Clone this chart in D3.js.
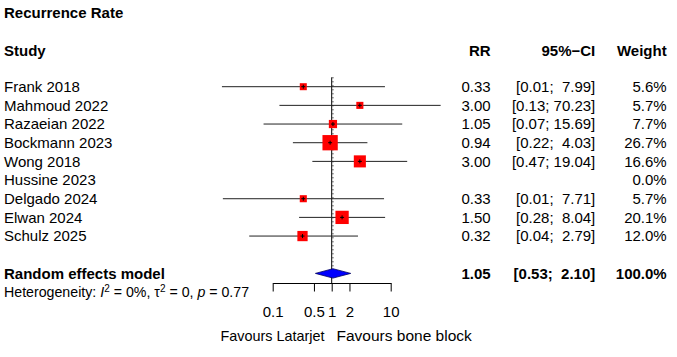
<!DOCTYPE html>
<html>
<head>
<meta charset="utf-8">
<script src="https://cdn.jsdelivr.net/npm/d3@7"></script>
<style>
  html, body { margin: 0; padding: 0; background: #fff; }
  svg text { font-family: "Liberation Sans", Arial, Helvetica, sans-serif; white-space: pre; }
</style>
</head>
<body>
<svg id="chart" width="677" height="357"></svg>
<script>
// ---- data ----
const title = "Recurrence Rate";
const studies = ["Frank 2018", "Mahmoud 2022", "Razaeian 2022", "Bockmann 2023", "Wong 2018",
                 "Hussine 2023", "Delgado 2024", "Elwan 2024", "Schulz 2025"];
const rr     = [0.33, 3.00, 1.05, 0.94, 3.00, null, 0.33, 1.50, 0.32];
const lower  = [0.0138, 0.13, 0.07, 0.22, 0.47, null, 0.0143, 0.28, 0.04];
const upper  = [7.99, 70.23, 15.69, 4.03, 19.04, null, 7.71, 8.04, 2.79];
const weight = [5.6, 5.7, 7.7, 26.7, 16.6, 0.0, 5.7, 20.1, 12.0];
const pooled = { label: "Random effects model", rr: 1.05, lower: 0.53, upper: 2.10, weight: 100.0 };
const hetText = { I2: "0%", tau2: "0", p: "0.77" };
const tickValues = [0.1, 0.5, 1, 2, 10];
const headers = ["Study", "RR", "95%\u2212CI", "Weight"];
const favours = ["Favours Latarjet", "Favours bone block"];

// ---- layout ----
const svg = d3.select("#chart");
const x = d3.scaleLog().domain([0.1, 10]).range([272.7, 390.7]);
const rowY = d3.scaleLinear().domain([0, 1]).range([86.7, 86.7 + 18.67]);
const sq = d3.scaleSqrt().domain([0, 26.7]).range([0, 15.3]);
const fmt2 = d3.format(".2f");
const fmtW = d3.format(".1f");
const colRR = 490.7, colCI = 595.3, colW = 666.7;
const base = 5.3;
const fs = 15;

function ciText(lo, hi) {
  const h = fmt2(hi);
  const pad = hi < 10 ? "  " : " ";
  return "[" + fmt2(lo) + ";" + pad + h + "]";
}

// title
svg.append("text").attr("x", 4).attr("y", 18).attr("font-size", fs).attr("font-weight", "bold").text(title);

// headers
const hy = 56;
svg.append("text").attr("x", 4).attr("y", hy).attr("font-size", fs).attr("font-weight", "bold").text(headers[0]);
[[colRR, headers[1]], [colCI, headers[2]], [colW, headers[3]]].forEach(([cx, t]) => {
  svg.append("text").attr("x", cx).attr("y", hy).attr("font-size", fs).attr("font-weight", "bold")
    .attr("text-anchor", "end").text(t);
});

// reference lines
const yTop = 77.3, axisY = 283;
svg.append("line").attr("x1", x(1)).attr("x2", x(1)).attr("y1", yTop).attr("y2", axisY)
  .attr("stroke", "#000").attr("stroke-width", 1);
svg.append("line").attr("x1", x(pooled.rr)).attr("x2", x(pooled.rr)).attr("y1", yTop).attr("y2", rowY(10) - 4.7)
  .attr("stroke", "#000").attr("stroke-width", 1).attr("stroke-dasharray", "1,3");

// study rows
const rows = svg.append("g");
studies.forEach((s, i) => {
  const y = rowY(i);
  rows.append("text").attr("x", 4).attr("y", y + base).attr("font-size", fs).text(s);
  if (rr[i] != null) {
    rows.append("line").attr("x1", x(lower[i])).attr("x2", x(upper[i])).attr("y1", y).attr("y2", y)
      .attr("stroke", "#222").attr("stroke-width", 1);
    const s2 = sq(weight[i]);
    rows.append("rect").attr("x", x(rr[i]) - s2 / 2).attr("y", y - s2 / 2).attr("width", s2).attr("height", s2)
      .attr("fill", "#ff0000");
    rows.append("line").attr("x1", x(rr[i]) - 2).attr("x2", x(rr[i]) + 2).attr("y1", y).attr("y2", y)
      .attr("stroke", "#000").attr("stroke-width", 1);
    rows.append("line").attr("x1", x(rr[i])).attr("x2", x(rr[i])).attr("y1", y - 2).attr("y2", y + 2)
      .attr("stroke", "#000").attr("stroke-width", 1);
    rows.append("text").attr("x", colRR).attr("y", y + base).attr("font-size", fs).attr("text-anchor", "end").text(fmt2(rr[i]));
    rows.append("text").attr("x", colCI).attr("y", y + base).attr("font-size", fs).attr("text-anchor", "end").text(ciText(lower[i], upper[i]));
  }
  rows.append("text").attr("x", colW).attr("y", y + base).attr("font-size", fs).attr("text-anchor", "end").text(fmtW(weight[i]) + "%");
});

// pooled
const py = rowY(10);
const dh = 4.7;
svg.append("path")
  .attr("d", `M${x(pooled.lower)},${py} L${x(pooled.rr)},${py - dh} L${x(pooled.upper)},${py} L${x(pooled.rr)},${py + dh} Z`)
  .attr("fill", "#0000ff").attr("stroke", "#000060").attr("stroke-width", 0.8);
svg.append("text").attr("x", 4).attr("y", py + base).attr("font-size", fs).attr("font-weight", "bold").text(pooled.label);
svg.append("text").attr("x", colRR).attr("y", py + base).attr("font-size", fs).attr("font-weight", "bold").attr("text-anchor", "end").text(fmt2(pooled.rr));
svg.append("text").attr("x", colCI).attr("y", py + base).attr("font-size", fs).attr("font-weight", "bold").attr("text-anchor", "end").text(ciText(pooled.lower, pooled.upper));
svg.append("text").attr("x", colW).attr("y", py + base).attr("font-size", fs).attr("font-weight", "bold").attr("text-anchor", "end").text(fmtW(pooled.weight) + "%");

// heterogeneity
const het = svg.append("text").attr("x", 4).attr("y", rowY(11) + 5).attr("font-size", 14.2);
het.append("tspan").text("Heterogeneity: ");
het.append("tspan").attr("font-style", "italic").text("I");
het.append("tspan").attr("font-size", 10).attr("dy", -5).text("2");
het.append("tspan").attr("dy", 5).text(" = " + hetText.I2 + ", \u03c4");
het.append("tspan").attr("font-size", 10).attr("dy", -5).text("2");
het.append("tspan").attr("dy", 5).text(" = " + hetText.tau2 + ", ");
het.append("tspan").attr("font-style", "italic").text("p");
het.append("tspan").text(" = " + hetText.p);

// axis
const axis = d3.axisBottom(x).tickValues(tickValues).tickFormat(d => String(d)).tickSizeInner(8.5).tickSizeOuter(0).tickPadding(4);
const ag = svg.append("g").attr("transform", `translate(0,${axisY})`).call(axis);
ag.select(".domain").attr("stroke", "#000");
ag.selectAll(".tick line").attr("stroke", "#000");
ag.selectAll(".tick text").attr("font-size", 15).attr("fill", "#000")
  .attr("font-family", '"Liberation Sans", Arial, sans-serif').attr("dy", null).attr("y", 33.5);

// favours labels
svg.append("text").attr("x", x(1) - 7.2).attr("y", 341).attr("font-size", 14.4).attr("text-anchor", "end").text(favours[0]);
svg.append("text").attr("x", x(1) + 4.8).attr("y", 341).attr("font-size", 15.5).attr("text-anchor", "start").text(favours[1]);
</script>
</body>
</html>
